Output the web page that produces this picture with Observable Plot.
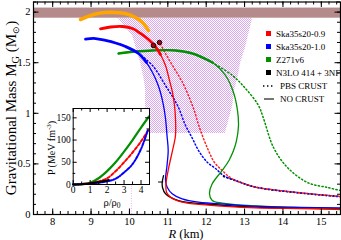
<!DOCTYPE html>
<html><head><meta charset="utf-8">
<script src="https://cdn.jsdelivr.net/npm/d3@7"></script>
<script src="https://cdn.jsdelivr.net/npm/@observablehq/plot@0.6"></script>
<style>
html,body{margin:0;padding:0;background:#fff;}
#wrap{position:relative;width:341px;height:240px;overflow:hidden;font-family:"Liberation Serif",serif;}
#wrap svg{position:absolute;}
#legend{position:absolute;left:0;top:0;font-family:"Liberation Serif",serif;font-size:9px;color:#000;}
.row{position:absolute;white-space:nowrap;line-height:12px;height:12px;}
.sq{position:absolute;width:5px;height:5px;top:3.5px;}
</style></head><body><div id="wrap"><div id="legend"></div></div>
<script>
// ---------- data ----------
const xDomain = [7.5, 15.5];
const yDomain = [0, 2.1];
const xMajor = [8, 9, 10, 11, 12, 13, 14, 15];
const xMinor = d3.range(38, 78).map(i => i / 5);
const yMajor = [0, 0.5, 1, 1.5, 2];
const yMinor = d3.range(0, 22).map(i => i / 10);
const bandM = [1.94, 2.04];
const hatchM =     [0.80, 1.07, 1.245, 1.34, 1.50, 1.64, 1.77, 1.937];
const hatchLeft =  [10.55, 10.42, 10.42, 10.38, 10.29, 10.18, 10.08, 9.715];
const hatchRight = [12.50, 12.69, 12.75, 12.82, 12.90, 13.02, 13.10, 13.21];
const radiusLine = [10.05, 0, 0.8];

const orange = [[8.725,1.927],[8.855,1.947],[9.116,1.981],[9.376,1.996],[9.637,1.996],[9.897,1.986],[10.158,1.947],[10.34,1.897],[10.497,1.818]];
const redSolid = [[9.246,1.835],[9.507,1.853],[9.819,1.858],[10.08,1.838],[10.289,1.789],[10.497,1.729],[10.679,1.66],[10.809,1.581],[10.94,1.472],[11.044,1.324],[11.122,1.206],[11.174,1.077],[11.2,0.949],[11.2,0.781],[11.122,0.632],[11.026,0.467],[10.953,0.306],[10.966,0.22],[11.07,0.171],[11.375,0.122],[11.982,0.096],[13.285,0.066],[14.458,0.059],[15.5,0.054]];
const blueSolid = [[8.855,1.734],[9.116,1.739],[9.376,1.72],[9.637,1.695],[9.897,1.66],[10.236,1.591],[10.445,1.502],[10.601,1.403],[10.731,1.295],[10.809,1.206],[10.888,1.077],[10.94,0.949],[10.979,0.781],[11.01,0.632],[10.979,0.484],[10.94,0.336],[10.984,0.27],[11.114,0.205],[11.375,0.155],[11.8,0.122],[12.581,0.099],[13.285,0.082],[14.458,0.071],[15.5,0.066]];
const greenSolid = [[9.715,1.591],[10.158,1.611],[10.601,1.621],[11.2,1.621],[11.643,1.591],[12.164,1.502],[12.503,1.374],[12.712,1.206],[12.816,1.028],[12.842,0.88],[12.79,0.731],[12.712,0.632],[12.594,0.534],[12.417,0.435],[12.157,0.303],[12.086,0.205],[12.157,0.138],[12.417,0.112],[12.842,0.096],[13.285,0.086],[14.458,0.064],[15.5,0.049]];
const blackSolid = [[10.888,0.385],[10.854,0.316],[10.862,0.267],[10.94,0.205],[11.279,0.138],[12.157,0.099],[13.285,0.072],[14.458,0.064],[15.5,0.059]];
const blackTick = [[10.757,0.321],[10.87,0.321]];
const redDotted = [[10.783,1.7],[10.94,1.591],[11.122,1.472],[11.383,1.304],[11.643,1.077],[11.852,0.83],[12.06,0.632],[12.217,0.514],[12.417,0.435],[12.678,0.353],[13.285,0.27],[13.494,0.257],[14.38,0.217],[15.5,0.178]];
const blueDotted = [[10.236,1.591],[10.601,1.472],[10.94,1.275],[11.253,1.077],[11.461,0.88],[11.643,0.751],[11.8,0.632],[12.034,0.514],[12.243,0.455],[12.451,0.385],[12.764,0.336],[13.285,0.272],[14.38,0.217],[15.5,0.175]];
const greenDotted = [[12.164,1.502],[12.686,1.374],[13.025,1.245],[13.363,1.077],[13.494,0.949],[13.754,0.662],[14.119,0.464],[14.64,0.316],[15.161,0.267],[15.5,0.237]];
const blackDotted = [[12.451,0.376],[12.8,0.33],[13.285,0.27],[14.38,0.215],[15.5,0.178]];
const maxDots = [[10.627,1.67],[10.783,1.7]];

// inset data (rho/rho0, P)
const insetXDomain = [0, 4.5];
const insetYDomain = [0, 171];
const insetXMajor = [0, 1, 2, 3, 4];
const insetXMinor = [0.5, 1.5, 2.5, 3.5, 4.5];
const insetYMajor = [0, 50, 100, 150];
const insetYMinor = [25, 75, 125];
const pGreen = [[0,0],[0.5,0.8],[1,4],[1.5,14],[2,30],[2.5,50],[3,74],[3.5,100],[4,128],[4.47,153]];
const pRed = [[0,0],[1,3],[1.5,7],[2,14],[2.5,30],[3,50],[3.5,72],[4,97],[4.47,125]];
const pBlue = [[0,0],[1,2],[2,7],[2.5,13],[3,27],[3.5,46],[4,80],[4.4,122]];
const pBlack = [[0,0],[0.5,0.6],[1,2.5],[1.5,5.5],[2.1,10]];

const legendItems = [
  {label: "Ska35s20-0.9", kind: "sq", color: "#ff0000"},
  {label: "Ska35s20-1.0", kind: "sq", color: "#0000ff"},
  {label: "Z271v6", kind: "sq", color: "#009000"},
  {label: "N3LO 414 + 3NF", kind: "sq", color: "#000000"},
  {label: "PBS CRUST", kind: "dot", color: "#000000"},
  {label: "NO CRUST", kind: "line", color: "#777777"}
];

// ---------- main plot ----------
const W = 341, H = 240, mL = 33, mR = 1, mT = 1.5, mB = 26;
const pH = H - mT - mB, pW = W - mL - mR;
const pts = a => a.map(([x, y]) => ({x, y}));
const hatch = hatchM.map((m, i) => ({m, l: hatchLeft[i], r: hatchRight[i]}));
const C = "catmull-rom";
const DOT = "1.2,2.4";

const main = Plot.plot({
  width: W, height: H,
  marginLeft: mL, marginRight: mR, marginTop: mT, marginBottom: mB,
  x: {domain: xDomain, axis: null},
  y: {domain: yDomain, axis: null},
  style: {fontFamily: "Liberation Serif, serif", background: "transparent"},
  marks: [
    Plot.rect([bandM], {x1: xDomain[0], x2: xDomain[1], y1: d => d[0], y2: d => d[1], fill: "#b58a8a"}),
    Plot.areaX(hatch, {y: "m", x1: "l", x2: "r", fill: "url(#hatchPat)"}),
    Plot.ruleX([radiusLine], {x: d => d[0], y1: d => d[1], y2: d => d[2], stroke: "#dca0ec", strokeDasharray: "1,1.5", strokeWidth: 0.8}),
    Plot.line(pts(greenDotted), {x: "x", y: "y", stroke: "#009000", strokeWidth: 1.5, strokeDasharray: DOT, curve: C}),
    Plot.line(pts(blackDotted), {x: "x", y: "y", stroke: "#000", strokeWidth: 1.5, strokeDasharray: DOT, curve: C}),
    Plot.line(pts(blueDotted), {x: "x", y: "y", stroke: "#0000ff", strokeWidth: 1.5, strokeDasharray: DOT, curve: C}),
    Plot.line(pts(redDotted), {x: "x", y: "y", stroke: "#ff2020", strokeWidth: 1.5, strokeDasharray: DOT, strokeDashoffset: 1.8, curve: C}),
    Plot.line(pts(greenSolid), {x: "x", y: "y", stroke: "#009000", strokeWidth: 1.3, curve: C}),
    Plot.line(pts(greenSolid.slice(0, 6)), {x: "x", y: "y", stroke: "#009000", strokeWidth: 2.4, curve: C}),
    Plot.line(pts(blackSolid), {x: "x", y: "y", stroke: "#000", strokeWidth: 1.3, curve: C}),
    Plot.line(pts(blackTick), {x: "x", y: "y", stroke: "#000", strokeWidth: 1}),
    Plot.line(pts(blueSolid), {x: "x", y: "y", stroke: "#0000ff", strokeWidth: 1.3, curve: C}),
    Plot.line(pts(blueSolid.slice(0, 7)), {x: "x", y: "y", stroke: "#0000ff", strokeWidth: 2.8, curve: C}),
    Plot.line(pts(redSolid), {x: "x", y: "y", stroke: "#ff0000", strokeWidth: 1.3, curve: C}),
    Plot.line(pts(redSolid.slice(0, 8)), {x: "x", y: "y", stroke: "#ff0000", strokeWidth: 2.8, curve: C}),
    Plot.line(pts(orange), {x: "x", y: "y", stroke: "#ffa500", strokeWidth: 3.6, curve: C}),
    Plot.dot(pts(maxDots), {x: "x", y: "y", r: 2.3, fill: "#b00000", stroke: "#000", strokeWidth: 0.9}),
    // ticks (inward, all four sides)
    Plot.tickX(xMinor, {x: d => d, insetTop: pH - 3, stroke: "#000"}),
    Plot.tickX(xMinor, {x: d => d, insetBottom: pH - 3, stroke: "#000"}),
    Plot.tickX(xMajor, {x: d => d, insetTop: pH - 5.5, stroke: "#000"}),
    Plot.tickX(xMajor, {x: d => d, insetBottom: pH - 5.5, stroke: "#000"}),
    Plot.tickY(yMinor, {y: d => d, insetRight: pW - 3, stroke: "#000"}),
    Plot.tickY(yMinor, {y: d => d, insetLeft: pW - 3, stroke: "#000"}),
    Plot.tickY(yMajor, {y: d => d, insetRight: pW - 5.5, stroke: "#000"}),
    Plot.tickY(yMajor, {y: d => d, insetLeft: pW - 5.5, stroke: "#000"}),
    Plot.axisX({ticks: xMajor, tickSize: 0, tickPadding: 3.5, fontSize: 10.5, tickFormat: d => d, label: null}),
    Plot.axisY({ticks: yMajor, tickSize: 0, tickPadding: 3, fontSize: 10.5, tickFormat: d => d, label: null}),
    Plot.frame({stroke: "#000", strokeWidth: 1.2})
  ]
});
const wrap = document.getElementById("wrap");
wrap.insertBefore(main, wrap.firstChild);
main.style.left = "0px"; main.style.top = "0px";

const ms = d3.select(main);
const defs = ms.insert("defs", ":first-child");
const pat = defs.append("pattern").attr("id", "hatchPat").attr("width", 2).attr("height", 2).attr("patternUnits", "userSpaceOnUse");
pat.append("rect").attr("width", 2).attr("height", 2).attr("fill", "#ffffff");
pat.append("rect").attr("width", 1).attr("height", 1).attr("fill", "#dca6f0");
pat.append("rect").attr("x", 1).attr("y", 1).attr("width", 1).attr("height", 1).attr("fill", "#dca6f0");

// y axis title
const yt = ms.append("text").attr("transform", "translate(15.5,108) rotate(-90)")
  .attr("text-anchor", "middle").attr("font-size", 15).attr("font-family", "Liberation Serif, serif").attr("fill", "#000");
yt.append("tspan").text("Gravitational Mass M");
yt.append("tspan").attr("font-size", 10.5).attr("dy", 3).text("G");
yt.append("tspan").attr("dy", -3).text(" (M");
yt.append("tspan").attr("font-size", 8.5).attr("dy", 3).text("⊙");
yt.append("tspan").attr("dy", -3).text(")");
// x axis title
const xt = ms.append("text").attr("x", 186).attr("y", 237.5).attr("text-anchor", "middle")
  .attr("font-size", 12.5).attr("font-family", "Liberation Serif, serif").attr("fill", "#000");
xt.append("tspan").attr("font-style", "italic").text("R");
xt.append("tspan").text(" (km)");

// ---------- inset ----------
const iLeft = 38, iTop = 104, iW = 113, iH = 106, imL = 34.7, imR = 2, imT = 4, imB = 26;
const ipH = iH - imT - imB, ipW = iW - imL - imR;
const inset = Plot.plot({
  width: iW, height: iH,
  marginLeft: imL, marginRight: imR, marginTop: imT, marginBottom: imB,
  x: {domain: insetXDomain, axis: null},
  y: {domain: insetYDomain, axis: null},
  style: {fontFamily: "Liberation Serif, serif", background: "transparent", overflow: "visible"},
  marks: [
    Plot.frame({fill: "#fff"}),
    Plot.line(pts(pGreen), {x: "x", y: "y", stroke: "#009000", strokeWidth: 2.2, curve: C}),
    Plot.line(pts(pRed), {x: "x", y: "y", stroke: "#ff0000", strokeWidth: 2, strokeDasharray: "3,2", curve: C}),
    Plot.line(pts(pBlue), {x: "x", y: "y", stroke: "#0000ff", strokeWidth: 2, strokeDasharray: "3,1.5,1.2,1.5", curve: C}),
    Plot.line(pts(pBlack), {x: "x", y: "y", stroke: "#000", strokeWidth: 2, curve: C}),
    Plot.tickX(insetXMinor, {x: d => d, insetTop: ipH - 2.5, stroke: "#000"}),
    Plot.tickX(insetXMinor, {x: d => d, insetBottom: ipH - 2.5, stroke: "#000"}),
    Plot.tickX(insetXMajor, {x: d => d, insetTop: ipH - 4, stroke: "#000"}),
    Plot.tickX(insetXMajor, {x: d => d, insetBottom: ipH - 4, stroke: "#000"}),
    Plot.tickY(insetYMinor, {y: d => d, insetRight: ipW - 2.5, stroke: "#000"}),
    Plot.tickY(insetYMinor, {y: d => d, insetLeft: ipW - 2.5, stroke: "#000"}),
    Plot.tickY(insetYMajor, {y: d => d, insetRight: ipW - 4, stroke: "#000"}),
    Plot.tickY(insetYMajor, {y: d => d, insetLeft: ipW - 4, stroke: "#000"}),
    Plot.axisX({ticks: insetXMajor, tickSize: 0, tickPadding: 2, fontSize: 9.5, tickFormat: d => d, label: null}),
    Plot.axisY({ticks: insetYMajor, tickSize: 0, tickPadding: 2.5, fontSize: 9.5, tickFormat: d => d, label: null}),
    Plot.frame({stroke: "#000", strokeWidth: 1})
  ]
});
wrap.appendChild(inset);
inset.style.left = iLeft + "px"; inset.style.top = iTop + "px";
const is = d3.select(inset);
const pt = is.append("text").attr("transform", `translate(${55 - iLeft},${148 - iTop}) rotate(-90)`)
  .attr("text-anchor", "middle").attr("font-size", 10).attr("font-family", "Liberation Serif, serif");
pt.append("tspan").text("P (MeV fm");
pt.append("tspan").attr("font-size", 7).attr("dy", -4).text("-3");
pt.append("tspan").attr("dy", 4).text(")");
const rt = is.append("text").attr("x", 112 - iLeft).attr("y", 205.5 - iTop).attr("text-anchor", "middle")
  .attr("font-size", 10.5).attr("font-family", "Liberation Serif, serif");
rt.append("tspan").text("ρ/ρ");
rt.append("tspan").attr("font-size", 7.5).attr("dy", 2.5).text("0");

// ---------- legend ----------
const leg = document.getElementById("legend");
wrap.appendChild(leg);
legendItems.forEach((it, i) => {
  const row = document.createElement("div");
  row.className = "row";
  const cy = 33.5 + 13 * i;
  row.style.top = (cy - 6) + "px";
  row.style.left = "262px";
  let mark = "";
  if (it.kind === "sq") mark = `<span class="sq" style="left:4px;background:${it.color}"></span>`;
  else if (it.kind === "dot") mark = `<svg width="12" height="12" style="position:absolute;left:0;top:0"><line x1="1" x2="12" y1="6" y2="6" stroke="${it.color}" stroke-width="1.4" stroke-dasharray="1.4,2.6"/></svg>`;
  else mark = `<svg width="12" height="12" style="position:absolute;left:0;top:0"><line x1="2" x2="12" y1="6" y2="6" stroke="${it.color}" stroke-width="2"/></svg>`;
  const tx = it.kind === "sq" ? 14 : 18;
  row.innerHTML = mark + `<span style="position:absolute;left:${tx}px;top:0">${it.label}</span>`;
  leg.appendChild(row);
});
</script></body></html>
